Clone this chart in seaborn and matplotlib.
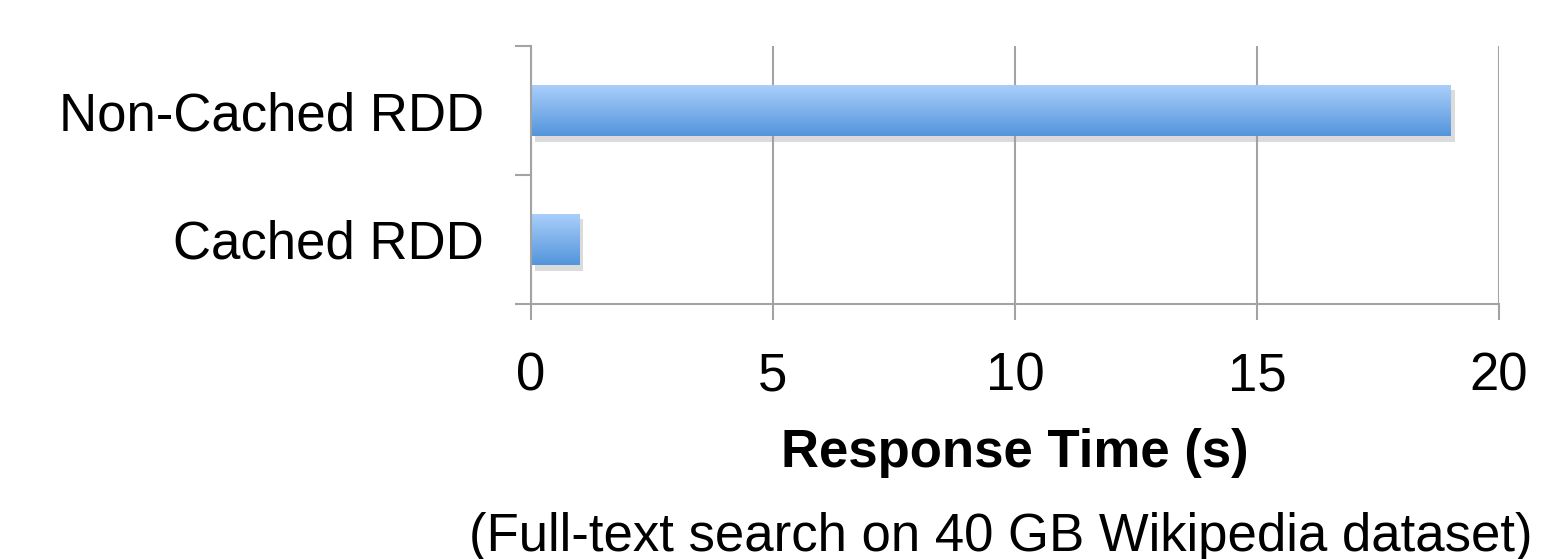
import numpy as np
import pandas as pd
import matplotlib
matplotlib.use("Agg")
import matplotlib.pyplot as plt
import matplotlib.patheffects as pe
from matplotlib.colors import LinearSegmentedColormap
import seaborn as sns

# Data
categories = ["Non-Cached RDD", "Cached RDD"]
times = [19, 1]
x_ticks = [0, 5, 10, 15, 20]

sns.set_theme(style="white")
plt.rcParams['font.family'] = ['Liberation Sans', 'DejaVu Sans']
plt.rcParams['text.color'] = 'black'
plt.rcParams['xtick.color'] = 'black'
plt.rcParams['ytick.color'] = 'black'
plt.rcParams['axes.labelcolor'] = 'black'

gray = "#a3a3a3"
df = pd.DataFrame({"RDD": categories, "Time": times})

fig = plt.figure(figsize=(15.42, 5.59), dpi=100)
ax = fig.add_axes([0.3443, 0.4562, 0.6278, 0.4615])
sns.barplot(data=df, x="Time", y="RDD", orient="h", width=0.4,
            color="#5597dc", saturation=1, ax=ax)

# gradient fill + soft shadow on each bar
cmap = LinearSegmentedColormap.from_list("bar", ["#abcffb", "#5395db"])
grad = np.linspace(0, 1, 100).reshape(-1, 1)
for p in list(ax.patches):
    x0, y0 = p.get_x(), p.get_y()
    w, h = p.get_width(), p.get_height()
    p.set_edgecolor("none")
    p.set_path_effects([pe.SimplePatchShadow(offset=(3, -4), shadow_rgbFace=(0.6, 0.6, 0.6), alpha=0.35),
                        pe.Normal()])
    im = ax.imshow(grad, extent=(x0, x0 + w, y0 + h, y0), origin="upper",
                   aspect="auto", cmap=cmap, zorder=p.get_zorder() + 0.1)
    im.set_clip_path(p)

ax.set_xlim(0, 20)
ax.set_ylim(1.5, -0.5)
ax.set_xticks(x_ticks)
ax.set_yticks([-0.5, 0.5, 1.5], minor=True)

for s in ["top", "right"]:
    ax.spines[s].set_visible(False)
for s in ["left", "bottom"]:
    ax.spines[s].set_color(gray)
    ax.spines[s].set_linewidth(1.5)

ax.xaxis.grid(True, color=gray, linewidth=1.5)
ax.set_axisbelow(True)

ax.tick_params(axis="x", which="major", bottom=True, length=11.5, width=1.5,
               color=gray, labelcolor="black", labelsize=38, pad=23)
ax.tick_params(axis="y", which="major", left=False, length=0, labelsize=38,
               labelcolor="black", pad=34)
ax.tick_params(axis="y", which="minor", left=True, length=11.5, width=1.5, color=gray)

ax.set_ylabel("")
ax.set_xlabel("Response Time (s)", fontsize=38, fontweight="bold", labelpad=19, color="black")

fig.text(1001 / 1542, 8 / 559, "(Full-text search on 40 GB Wikipedia dataset)",
         ha="center", va="baseline", fontsize=38, color="black")

fig.savefig("out.png", dpi=100)
